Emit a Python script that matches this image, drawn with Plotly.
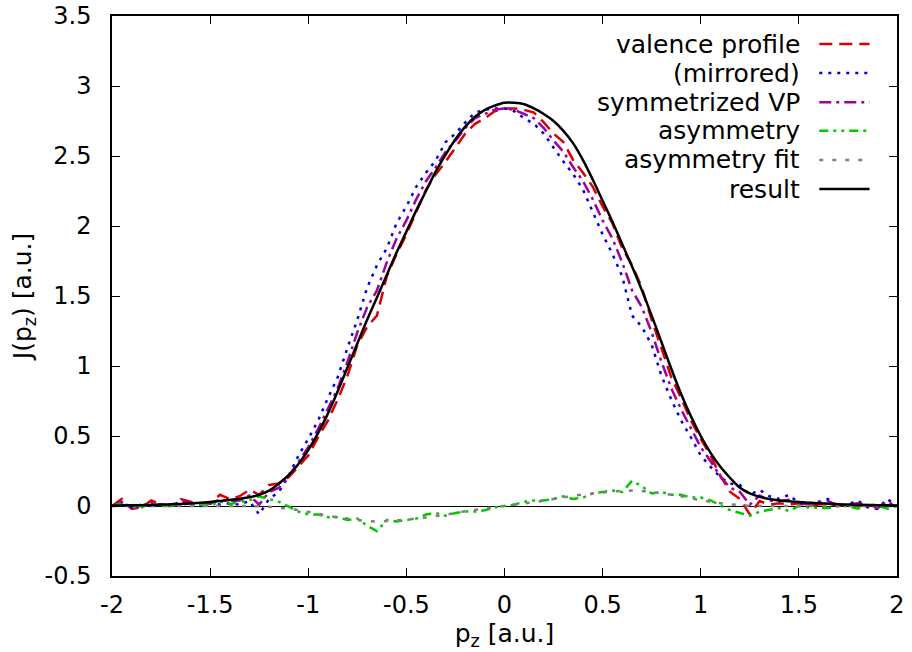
import plotly.graph_objects as go

# momentum grid [a.u.]
p_z = [-2.0, -1.95, -1.9, -1.85, -1.8, -1.75, -1.7, -1.65, -1.6, -1.55,
       -1.5, -1.45, -1.4, -1.35, -1.3, -1.25, -1.2, -1.15, -1.1, -1.05,
       -1.0, -0.95, -0.9, -0.85, -0.8, -0.75, -0.7, -0.65, -0.6, -0.55,
       -0.5, -0.45, -0.4, -0.35, -0.3, -0.25, -0.2, -0.15, -0.1, -0.05,
       0.0, 0.05, 0.1, 0.15, 0.2, 0.25, 0.3, 0.35, 0.4, 0.45,
       0.5, 0.55, 0.6, 0.65, 0.7, 0.75, 0.8, 0.85, 0.9, 0.95,
       1.0, 1.05, 1.1, 1.15, 1.2, 1.25, 1.3, 1.35, 1.4, 1.45,
       1.5, 1.55, 1.6, 1.65, 1.7, 1.75, 1.8, 1.85, 1.9, 1.95, 2.0]

valence_profile = [0.0, 0.05, -0.02, -0.01, 0.04, 0.01, 0.0, 0.05, 0.03, 0.02,
                   0.02, 0.08, 0.05, 0.07, 0.115, 0.08, 0.15, 0.16, 0.205, 0.28,
                   0.36, 0.49, 0.61, 0.76, 0.93, 1.15, 1.28, 1.36, 1.64, 1.80,
                   1.94, 2.10, 2.26, 2.37, 2.46, 2.56, 2.66, 2.73, 2.77, 2.82,
                   2.84, 2.84, 2.83, 2.81, 2.74, 2.66, 2.60, 2.47, 2.38, 2.28,
                   2.14, 2.02, 1.84, 1.72, 1.56, 1.33, 1.13, 0.92, 0.77, 0.61,
                   0.48, 0.36, 0.215, 0.10, 0.05, -0.06, 0.035, 0.01, 0.02, 0.01,
                   0.02, 0.00, 0.01, 0.02, 0.0, 0.01, 0.00, 0.01, -0.01, 0.01, 0.0]

mirrored = [0.0, 0.01, -0.01, 0.01, 0.00, 0.01, 0.0, 0.02, 0.01, 0.00,
            0.02, 0.01, 0.02, 0.01, 0.035, -0.06, 0.05, 0.10, 0.215, 0.36,
            0.48, 0.61, 0.77, 0.92, 1.13, 1.33, 1.56, 1.72, 1.84, 2.02,
            2.14, 2.28, 2.38, 2.47, 2.60, 2.66, 2.74, 2.81, 2.83, 2.84,
            2.84, 2.82, 2.77, 2.73, 2.66, 2.56, 2.46, 2.37, 2.26, 2.10,
            1.94, 1.80, 1.64, 1.36, 1.28, 1.15, 0.93, 0.76, 0.61, 0.49,
            0.36, 0.28, 0.205, 0.16, 0.15, 0.08, 0.115, 0.07, 0.05, 0.08,
            0.02, 0.02, 0.03, 0.05, 0.0, 0.01, 0.04, -0.01, -0.02, 0.05, 0.0]

symmetrized = [0.0, 0.03, -0.015, 0.0, 0.02, 0.01, 0.0, 0.035, 0.02, 0.01,
               0.02, 0.045, 0.035, 0.04, 0.075, 0.01, 0.10, 0.13, 0.21, 0.32,
               0.42, 0.55, 0.69, 0.84, 1.03, 1.24, 1.42, 1.54, 1.74, 1.91,
               2.04, 2.19, 2.32, 2.42, 2.53, 2.61, 2.70, 2.77, 2.80, 2.83,
               2.84, 2.83, 2.80, 2.77, 2.70, 2.61, 2.53, 2.42, 2.32, 2.19,
               2.04, 1.91, 1.74, 1.54, 1.42, 1.24, 1.03, 0.84, 0.69, 0.55,
               0.42, 0.32, 0.21, 0.13, 0.10, 0.01, 0.075, 0.04, 0.035, 0.045,
               0.02, 0.01, 0.02, 0.035, 0.0, 0.01, 0.02, 0.0, -0.015, 0.03, 0.0]

asymmetry = [0.0, 0.02, -0.005, -0.01, 0.02, 0.0, 0.0, 0.015, 0.01, 0.01,
             0.0, 0.035, 0.015, 0.03, 0.04, 0.07, 0.05, 0.03, -0.005, -0.04,
             -0.06, -0.06, -0.08, -0.08, -0.10, -0.09, -0.14, -0.18, -0.10, -0.11,
             -0.10, -0.09, -0.06, -0.05, -0.07, -0.05, -0.04, -0.04, -0.03, -0.01,
             0.0, 0.01, 0.03, 0.04, 0.04, 0.05, 0.07, 0.05, 0.06, 0.09,
             0.10, 0.11, 0.10, 0.18, 0.14, 0.09, 0.10, 0.08, 0.08, 0.06,
             0.06, 0.04, 0.005, -0.03, -0.05, -0.07, -0.04, -0.03, -0.015, -0.035,
             0.0, -0.01, -0.01, -0.015, 0.0, 0.0, -0.02, 0.01, 0.005, -0.02, 0.0]

asymmetry_fit = [0.0, 0.0, 0.0, 0.0, 0.0, 0.0, 0.0, 0.0, 0.0, 0.0,
                 0.0, 0.0, 0.0, 0.0, 0.0, -0.002, -0.006, -0.012, -0.02, -0.03,
                 -0.042, -0.055, -0.07, -0.08, -0.09, -0.10, -0.108, -0.11, -0.108, -0.103,
                 -0.097, -0.09, -0.082, -0.072, -0.062, -0.05, -0.038, -0.028, -0.018, -0.008,
                 0.0, 0.008, 0.018, 0.028, 0.038, 0.05, 0.062, 0.072, 0.082, 0.09,
                 0.097, 0.103, 0.108, 0.11, 0.108, 0.10, 0.09, 0.08, 0.07, 0.055,
                 0.042, 0.03, 0.02, 0.012, 0.006, 0.002, 0.0, 0.0, 0.0, 0.0,
                 0.0, 0.0, 0.0, 0.0, 0.0, 0.0, 0.0, 0.0, 0.0, 0.0, 0.0]

result = [0.003, 0.004, 0.005, 0.006, 0.008, 0.010, 0.012, 0.015, 0.018, 0.023,
          0.028, 0.035, 0.043, 0.052, 0.063, 0.08, 0.11, 0.16, 0.22, 0.30,
          0.40, 0.52, 0.66, 0.82, 0.99, 1.16, 1.33, 1.49, 1.65, 1.81,
          1.96, 2.11, 2.25, 2.39, 2.51, 2.62, 2.71, 2.78, 2.83, 2.86,
          2.88, 2.88, 2.87, 2.84, 2.80, 2.75, 2.68, 2.59, 2.47, 2.33,
          2.18, 2.03, 1.87, 1.71, 1.54, 1.36, 1.17, 0.98, 0.80, 0.64,
          0.50, 0.38, 0.28, 0.20, 0.13, 0.09, 0.065, 0.05, 0.04, 0.034,
          0.028, 0.023, 0.019, 0.016, 0.013, 0.011, 0.009, 0.007, 0.006, 0.005, 0.004]

x_ticks = [-2, -1.5, -1, -0.5, 0, 0.5, 1, 1.5, 2]
x_tick_labels = ["-2", "-1.5", "-1", "-0.5", "0", "0.5", "1", "1.5", "2"]
y_ticks = [-0.5, 0, 0.5, 1, 1.5, 2, 2.5, 3, 3.5]
y_tick_labels = ["-0.5", "0", "0.5", "1", "1.5", "2", "2.5", "3", "3.5"]

series_names = ["valence profile", "(mirrored)", "symmetrized VP",
                "asymmetry", "asymmetry fit", "result"]
series_data = [valence_profile, mirrored, symmetrized, asymmetry, asymmetry_fit, result]
series_colors = ["#dd0000", "#0000e6", "#a000a0", "#00c800", "#808080", "#000000"]
series_dash = ["13px,7px", "3px,6px", "12px,5px,3px,5px",
               "9px,5px,3px,5px,3px,5px", "4px,9px", "solid"]
series_shape = ["linear", "linear", "linear", "linear", "spline", "spline"]

FONT = "DejaVu Sans, Liberation Sans, Arial, sans-serif"

fig = go.Figure()
for name, ys, col, dash, shp in zip(series_names, series_data, series_colors,
                                      series_dash, series_shape):
    fig.add_trace(go.Scatter(x=p_z, y=ys, mode="lines", name=name,
                             line=dict(color=col, width=2.5, dash=dash, shape=shp)))

# gnuplot-style key: text right-aligned, sample line to the right
row_y = [0.950, 0.898, 0.846, 0.795, 0.743, 0.691]
for name, col, dash, yy in zip(series_names, series_colors, series_dash, row_y):
    fig.add_annotation(xref="paper", yref="paper", x=0.879, y=yy, text=name,
                       showarrow=False, xanchor="right", yanchor="middle",
                       font=dict(family=FONT, size=25, color="black"))
    fig.add_shape(type="line", xref="paper", yref="paper", x0=0.901, x1=0.965,
                  y0=yy, y1=yy, line=dict(color=col, width=2.5, dash=dash))

fig.update_layout(
    width=912, height=652,
    margin=dict(l=112, r=15, t=16, b=76, autoexpand=False),
    plot_bgcolor="white", paper_bgcolor="white",
    showlegend=False,
    font=dict(family=FONT, size=24, color="black"),
)
fig.update_xaxes(range=[-2, 2], tickvals=x_ticks, ticktext=x_tick_labels,
                 ticks="inside", ticklen=8, tickwidth=1, tickcolor="black",
                 showline=True, linecolor="black", linewidth=1.5, mirror="ticks",
                 showgrid=False, zeroline=False, automargin=False,
                 ticklabelstandoff=6,
                 title=dict(text="p<sub>z</sub> [a.u.]", font=dict(size=25), standoff=2))
fig.update_yaxes(range=[-0.5, 3.5], tickvals=y_ticks, ticktext=y_tick_labels,
                 ticks="inside", ticklen=8, tickwidth=1, tickcolor="black",
                 showline=True, linecolor="black", linewidth=1.5, mirror="ticks",
                 showgrid=False, zeroline=True, zerolinecolor="black", zerolinewidth=1.2,
                 automargin=False, ticklabelstandoff=14,
                 title=dict(text="J(p<sub>z</sub>) [a.u.]", font=dict(size=25), standoff=6))

fig.write_html("out.html")
